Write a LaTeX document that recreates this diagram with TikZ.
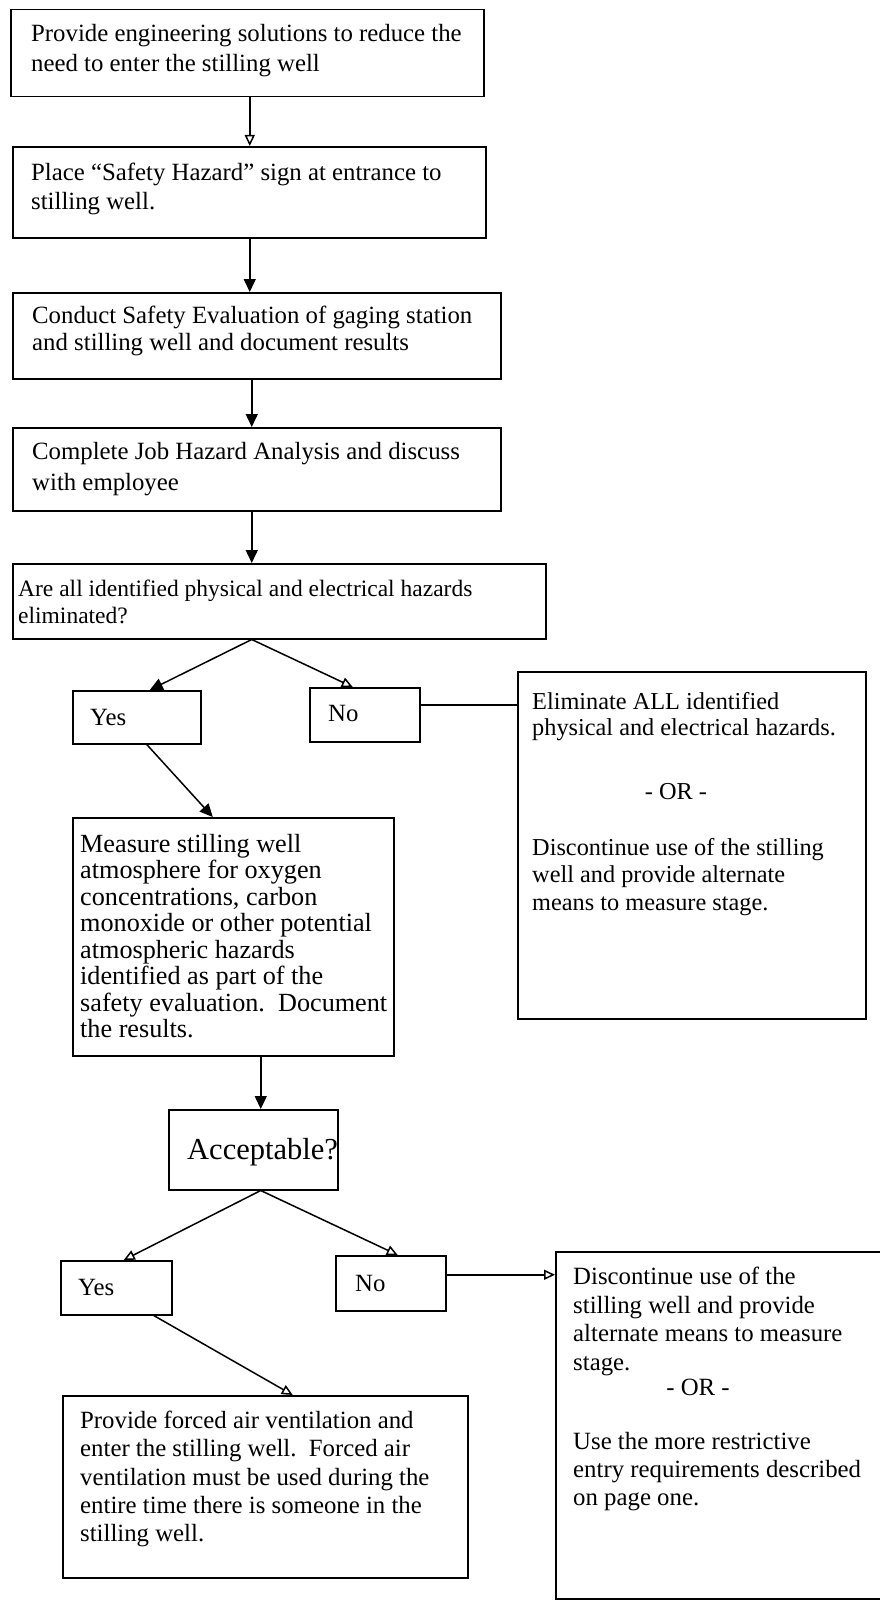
\documentclass[tikz,border=0pt]{standalone}
\usepackage{fontspec}
\setmainfont{Liberation Serif}
\usetikzlibrary{arrows.meta,calc}
\begin{document}
\begin{tikzpicture}[x=1pt,y=-1pt,
  box/.style={draw, line width=1.5pt, inner sep=0pt, anchor=north west},
  txt/.style={inner sep=0pt, anchor=north west, align=left, font=\fontsize{24.8}{29}\selectfont},
  txtsm/.style={inner sep=0pt, anchor=north west, align=left, font=\fontsize{23.5}{27}\selectfont},
  lbl/.style={inner sep=0pt, anchor=west, font=\fontsize{24.8}{29}\selectfont},
  orlbl/.style={inner sep=0pt, anchor=center},
  conn/.style={line width=1.5pt},
  arrF/.style={line width=1.5pt, -{Triangle[length=13pt,width=12pt]}},
  arrO/.style={line width=1.5pt, -{Triangle[open,length=11pt,width=10pt]}}
]
\useasboundingbox (0,0) rectangle (880,1600);
\fill[white] (0,0) rectangle (880,1600);

% boxes
\node[box, minimum width=473pt, minimum height=87pt] (b1) at (10,9) {};
\node[box, minimum width=473pt, minimum height=91pt] (b2) at (12,146) {};
\node[box, minimum width=488pt, minimum height=86pt] (b3) at (12,292) {};
\node[box, minimum width=488pt, minimum height=83pt] (b4) at (12,427) {};
\node[box, minimum width=533pt, minimum height=75pt] (b5) at (12,563) {};
\node[box, minimum width=128pt, minimum height=53pt] (yes1) at (72,690) {};
\node[box, minimum width=110pt, minimum height=54pt] (no1) at (309,687) {};
\node[box, minimum width=348pt, minimum height=347pt] (elim) at (517,671) {};
\node[box, minimum width=321pt, minimum height=238pt] (meas) at (72,817) {};
\node[box, minimum width=169pt, minimum height=80pt] (acc) at (168,1109) {};
\node[box, minimum width=111pt, minimum height=54pt] (yes2) at (60,1260) {};
\node[box, minimum width=110pt, minimum height=55pt] (no2) at (335,1255) {};
\node[box, minimum width=360pt, minimum height=347pt] (disc) at (555,1251) {};
\node[box, minimum width=405pt, minimum height=182pt] (bot) at (62,1395) {};

% texts
\node[txt, font=\fontsize{24.8}{30.5}\selectfont] (t1) at (31,24) {Provide engineering solutions to reduce the\\need to enter the stilling well};
\node[txt] (t2) at (31,163) {Place “Safety Hazard” sign at entrance to\\stilling well.};
\node[txt, font=\fontsize{24.8}{26.5}\selectfont] (t3) at (32,306) {Conduct Safety Evaluation of gaging station\\and stilling well and document results};
\node[txt, font=\fontsize{24.8}{31}\selectfont] (t4) at (32,442) {Complete Job Hazard Analysis and discuss\\with employee};
\node[txtsm] (t5) at (18,580) {Are all identified physical and electrical hazards\\eliminated?};
\node[lbl] (tyes1) at (90,717) {Yes};
\node[lbl] (tno1) at (328,713) {No};
\node[txtsm, font=\fontsize{24.3}{26.5}\selectfont] (e1) at (532,692) {Eliminate ALL identified\\physical and electrical hazards.};
\node[orlbl, font=\fontsize{24.3}{28}\selectfont] (e2) at (676,792) {- OR -};
\node[txtsm, font=\fontsize{24.3}{27.5}\selectfont] (e3) at (532,838) {Discontinue use of the stilling\\well and provide alternate\\means to measure stage.};
\node[txt, font=\fontsize{26.2}{26.5}\selectfont] (tm) at (80,834) {Measure stilling well\\atmosphere for oxygen\\concentrations, carbon\\monoxide or other potential\\atmospheric hazards\\identified as part of the\\safety evaluation.\ \ Document\\the results.};
\node[lbl, font=\fontsize{30.5}{33}\selectfont] (tacc) at (187,1152) {Acceptable?};
\node[lbl] (tyes2) at (78,1287) {Yes};
\node[lbl] (tno2) at (355,1283) {No};
\node[txt, font=\fontsize{24.8}{28.5}\selectfont] (d1) at (573,1267) {Discontinue use of the\\stilling well and provide\\alternate means to measure\\stage.};
\node[orlbl, font=\fontsize{24.8}{29}\selectfont] (d2) at (698,1387) {- OR -};
\node[txt, font=\fontsize{24.8}{28}\selectfont] (d3) at (573,1432) {Use the more restrictive\\entry requirements described\\on page one.};
\node[txt, font=\fontsize{24.8}{28.3}\selectfont] (tb) at (80,1411) {Provide forced air ventilation and\\enter the stilling well.\ \ Forced air\\ventilation must be used during the\\entire time there is someone in the\\stilling well.};

% connectors
\coordinate (c12) at ([xshift=2.5pt]b1.south);
\draw[arrO] (c12) -- (c12 |- b2.north);
\coordinate (c23) at ([xshift=0.5pt]b2.south);
\draw[arrF] (c23) -- (c23 |- b3.north);
\coordinate (c34) at ([xshift=-5pt]b3.south);
\draw[arrF] (c34) -- (c34 |- b4.north);
\coordinate (c45) at ([xshift=-5pt]b4.south);
\draw[arrF] (c45) -- (c45 |- b5.north);
\coordinate (apex1) at ([xshift=-27.5pt]b5.south);
\draw[arrF] (apex1) -- ([xshift=13pt]yes1.north);
\draw[arrO] (apex1) -- ([xshift=-12pt]no1.north);
\coordinate (cno1) at ([yshift=10pt]no1.east);
\draw[conn] (cno1) -- (cno1 -| elim.west);
\draw[arrF] ([xshift=10pt]yes1.south) -- ([xshift=-20.5pt]meas.north);
\coordinate (cma) at ([xshift=7.5pt]acc.north);
\draw[arrF] (cma |- meas.south) -- (cma);
\coordinate (apex2) at ([xshift=7.5pt]acc.south);
\draw[arrO] (apex2) -- ([xshift=7.5pt]yes2.north);
\draw[arrO] (apex2) -- ([xshift=7pt]no2.north);
\draw[arrO] ([xshift=37.5pt]yes2.south) -- ([xshift=27.5pt]bot.north);
\coordinate (cno2) at ([yshift=8.5pt]no2.east);
\draw[arrO] (cno2) -- (cno2 -| disc.west);
\end{tikzpicture}
\end{document}
